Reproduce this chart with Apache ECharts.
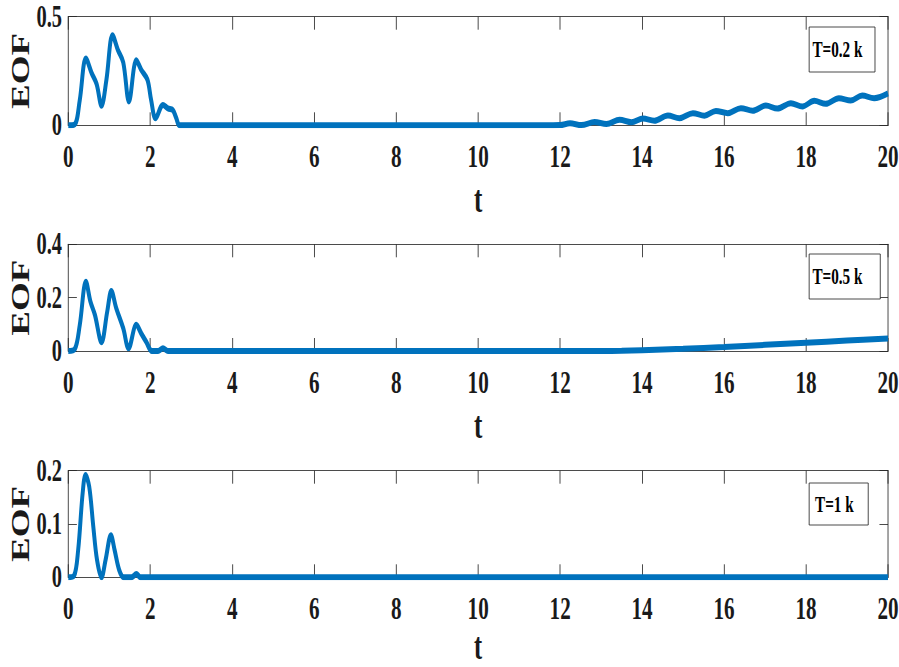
<!DOCTYPE html>
<html><head><meta charset="utf-8">
<script src="https://cdn.jsdelivr.net/npm/echarts@6/dist/echarts.min.js"></script>
<style>
html,body{margin:0;padding:0;overflow:hidden;background:#fff;width:899px;height:667px}
#wrap{width:899px;height:667px;overflow:hidden}
#c{width:1362px;height:667px;transform:scaleX(0.66);transform-origin:0 0}
</style>
</head><body><div id="wrap"><div id="c"></div></div>
<script>
// ---- data ----
const names = ['T=0.2 k', 'T=0.5 k', 'T=1 k'];
const xTicks = [0, 20, 2];            // min, max, interval
const yRanges = [[0, 0.5, 0.5], [0, 0.4, 0.2], [0, 0.2, 0.1]];

const t1 = [0, 0.16, 0.28, 0.43, 0.57, 0.69, 0.81, 0.93, 1.08, 1.21, 1.34, 1.48, 1.66, 1.78, 1.93, 2.02, 2.13, 2.31, 2.43, 2.55, 2.63, 2.71, 2.85, 6, 9, 11.6,
  12.0, 12.24, 12.52, 12.84, 13.13, 13.45, 13.74, 14.02, 14.30, 14.63, 14.91, 15.24, 15.52, 15.80, 16.09, 16.41, 16.70, 17.02, 17.30, 17.63, 17.91, 18.20, 18.48, 18.80, 19.09, 19.37, 19.66, 20];
const y1 = [0, 0.005, 0.117, 0.308, 0.24, 0.19, 0.09, 0.21, 0.415, 0.347, 0.29, 0.11, 0.30, 0.255, 0.21, 0.117, 0.032, 0.094, 0.078, 0.07, 0.035, 0, 0, 0, 0, 0,
  0.001, 0.009, 0.001, 0.015, 0.006, 0.025, 0.014, 0.031, 0.021, 0.045, 0.033, 0.056, 0.044, 0.066, 0.056, 0.079, 0.067, 0.091, 0.077, 0.102, 0.087, 0.113, 0.099, 0.125, 0.114, 0.137, 0.125, 0.147];

const t2 = [0, 0.16, 0.28, 0.43, 0.54, 0.65, 0.81, 0.95, 1.05, 1.17, 1.34, 1.47, 1.66, 1.78, 1.90, 2.04, 2.19, 2.31, 2.43, 2.6, 6, 10, 13, 13.5, 14, 15, 16, 17, 18, 19, 20];
const y2 = [0, 0.008, 0.098, 0.26, 0.185, 0.135, 0.033, 0.148, 0.225, 0.16, 0.085, 0.01, 0.098, 0.066, 0.035, 0, 0, 0.01, 0, 0, 0, 0, 0, 0.0008, 0.003, 0.008, 0.015, 0.023, 0.031, 0.039, 0.047];

const t3 = [0, 0.14, 0.24, 0.35, 0.42, 0.51, 0.61, 0.70, 0.81, 0.91, 1.04, 1.13, 1.24, 1.35, 1.54, 1.66, 1.76, 1.9, 6, 10, 14, 20];
const y3 = [0, 0.003, 0.051, 0.158, 0.192, 0.17, 0.095, 0.033, 0, 0.033, 0.079, 0.051, 0.014, 0, 0, 0.006, 0, 0, 0, 0, 0, 0];

const ts = [t1, t2, t3], ys = [y1, y2, y3];

// ---- layout (unscaled px; page is compressed horizontally like the reference) ----
const gridTops = [16.7, 244.3, 470.7];
const gridHeights = [108.6, 106.7, 106.6];
const tNameGaps = [59, 59, 54];
const tNameSizes = [38, 38, 37];
const legendBoxes = [
  {top: 27, pad: [11, 19, 11, 0]},
  {top: 254, pad: [11, 27, 11, 0]},
  {top: 483, pad: [9.5, 22, 9.5, 4]}
];
const axisColor = '#262626';
const fontFam = 'Liberation Serif';
const lineColor = '#0072BD';

const grid = [], xAxis = [], yAxis = [], series = [], legend = [];
for (let i = 0; i < 3; i++) {
  grid.push({left: 103.5, width: 1242, top: gridTops[i], height: gridHeights[i], containLabel: false, outerBoundsMode: 'none'});
  const common = {
    type: 'value', gridIndex: i,
    axisLine: {show: true, onZero: false, lineStyle: {color: axisColor, width: 1}},
    splitLine: {show: false},
  };
  xAxis.push(Object.assign({}, common, {
    position: 'bottom', min: xTicks[0], max: xTicks[1], interval: xTicks[2],
    axisTick: {show: true, inside: true, length: 13, lineStyle: {color: axisColor}},
    axisLabel: {show: true, margin: 15, color: '#1a1a1a', fontFamily: fontFam, fontWeight: 'bold', fontSize: 32},
    name: 't', nameLocation: 'middle', nameGap: tNameGaps[i], nameMoveOverlap: false,
    nameTextStyle: {color: '#1a1a1a', fontFamily: fontFam, fontWeight: 'bold', fontSize: tNameSizes[i], lineHeight: 30}
  }));
  xAxis.push(Object.assign({}, common, {
    position: 'top', min: xTicks[0], max: xTicks[1], interval: xTicks[2],
    axisTick: {show: true, inside: true, length: 13, lineStyle: {color: axisColor}},
    axisLabel: {show: false}
  }));
  const r = yRanges[i];
  yAxis.push(Object.assign({}, common, {
    position: 'left', min: r[0], max: r[1], interval: r[2],
    axisTick: {show: true, inside: true, length: 13, lineStyle: {color: axisColor}},
    axisLabel: {show: true, margin: 9.5, color: '#1a1a1a', fontFamily: fontFam, fontWeight: 'bold', fontSize: 31},
    name: 'EOF', nameLocation: 'middle', nameGap: 53, nameRotate: 90, nameMoveOverlap: false,
    nameTextStyle: {color: '#1a1a1a', fontFamily: fontFam, fontWeight: 'bold', fontSize: 37}
  }));
  yAxis.push(Object.assign({}, common, {
    position: 'right', min: r[0], max: r[1], interval: r[2],
    axisTick: {show: true, inside: true, length: 13, lineStyle: {color: axisColor}},
    axisLabel: {show: false}
  }));
  series.push({
    name: names[i], type: 'line', xAxisIndex: 2 * i, yAxisIndex: 2 * i,
    data: ts[i].map((t, k) => [t, ys[i][k]]),
    showSymbol: false, symbol: 'none', smooth: 0.35,
    lineStyle: {color: lineColor, width: 6}, itemStyle: {color: lineColor},
    clip: true, z: 5
  });
  legend.push({
    data: [names[i]], left: 1226, top: legendBoxes[i].top, orient: 'horizontal',
    icon: 'none', itemWidth: 0, itemHeight: 0, selectedMode: false,
    padding: legendBoxes[i].pad,
    borderColor: axisColor, borderWidth: 1, backgroundColor: '#fff',
    textStyle: {color: '#000', fontFamily: fontFam, fontWeight: 'bold', fontSize: 23}
  });
}

const chart = echarts.init(document.getElementById('c'), null, {renderer: 'svg', width: 1362, height: 667});
chart.setOption({animation: false, backgroundColor: '#fff', grid, xAxis, yAxis, series, legend});
</script></body></html>
